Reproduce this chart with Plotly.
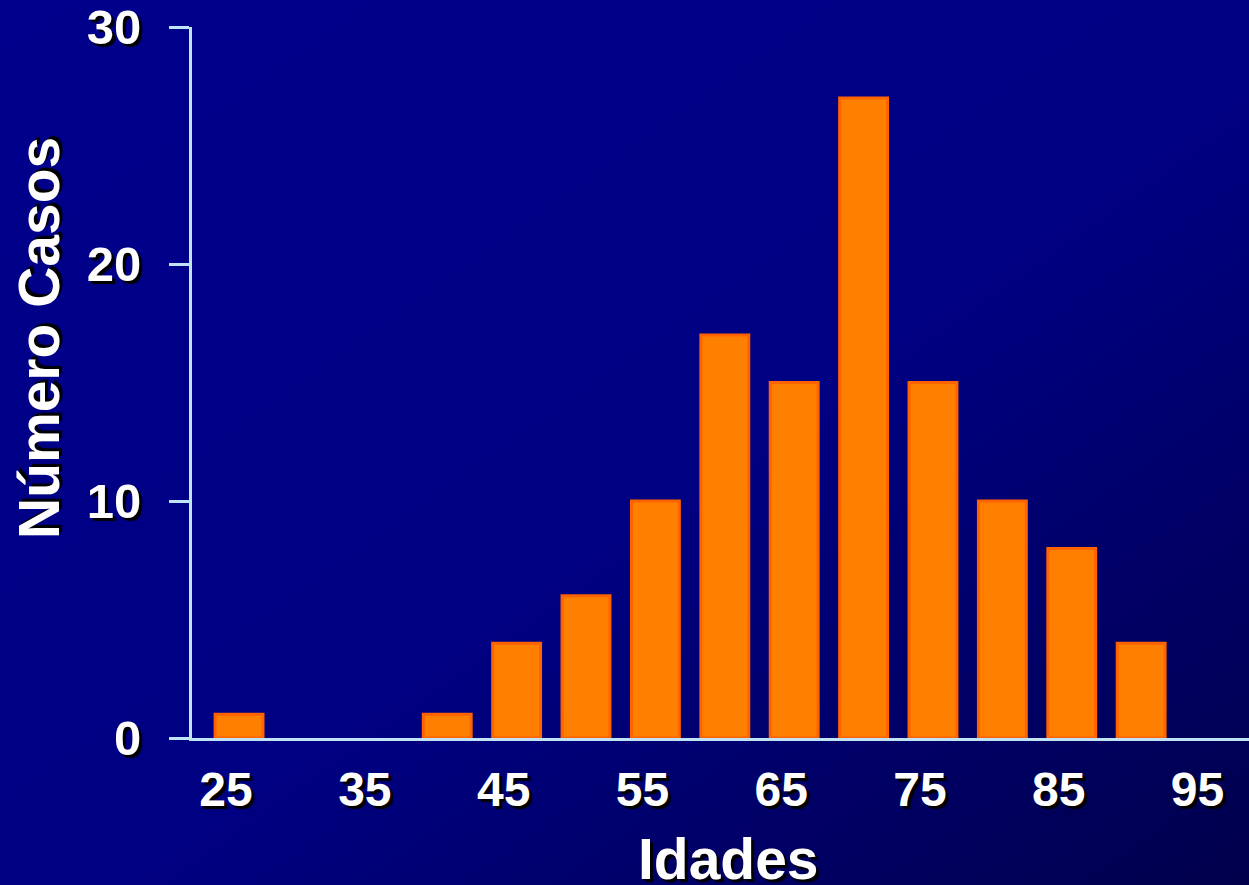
import urllib.parse
import plotly.graph_objects as go

# Age groups (lower bound of each 5-year class) and number of cases
idades = [25, 30, 35, 40, 45, 50, 55, 60, 65, 70, 75, 80, 85, 90]
casos = [1, 0, 0, 1, 4, 6, 10, 17, 15, 27, 15, 10, 8, 4]

x_ticks = [25, 35, 45, 55, 65, 75, 85, 95]
y_ticks = [0, 10, 20, 30]

W, H = 1249, 885
M_L, M_R, M_T, M_B = 192, 0, 27, 147
PW, PH = W - M_L - M_R, H - M_T - M_B

FONT = "Arial, Liberation Sans, sans-serif"
AXIS_COLOR = "#BFE4F8"
SHADOW = "3px 3px 1px #000000"

# Diagonal navy gradient used as the slide background
svg = (
    "<svg xmlns='http://www.w3.org/2000/svg' width='1249' height='885' "
    "preserveAspectRatio='none'><defs><linearGradient id='g' x1='0' y1='0' "
    "x2='1' y2='1'><stop offset='0' stop-color='#00008C'/>"
    "<stop offset='0.55' stop-color='#000082'/>"
    "<stop offset='1' stop-color='#00004C'/></linearGradient></defs>"
    "<rect width='1249' height='885' fill='url(#g)'/></svg>"
)
bg_src = "data:image/svg+xml;charset=utf-8," + urllib.parse.quote(svg)

# empty classes get no outline so nothing shows on the baseline
outline_w = [3 if v > 0 else 0 for v in casos]

fig = go.Figure(
    go.Bar(
        x=idades,
        y=casos,
        width=3.45,
        marker=dict(color="#FF8000", line=dict(color="#FF6200", width=outline_w)),
    )
)

fig.update_layout(
    width=W,
    height=H,
    margin=dict(l=M_L, r=M_R, t=M_T, b=M_B, pad=0),
    paper_bgcolor="#000080",
    plot_bgcolor="rgba(0,0,0,0)",
    showlegend=False,
    images=[
        dict(
            source=bg_src,
            xref="paper",
            yref="paper",
            x=-M_L / PW,
            y=1 + M_T / PH,
            sizex=W / PW,
            sizey=H / PH,
            xanchor="left",
            yanchor="top",
            sizing="stretch",
            layer="below",
        )
    ],
    xaxis=dict(
        range=[21.61, 97.77],
        tickvals=x_ticks,
        ticktext=[str(v) for v in x_ticks],
        ticks="",
        showgrid=False,
        zeroline=False,
        showline=True,
        linecolor=AXIS_COLOR,
        linewidth=3,
        ticklabelshift=-13,
        ticklabelstandoff=7,
        tickfont=dict(family=FONT, size=48, color="white", weight="bold", shadow=SHADOW),
    ),
    yaxis=dict(
        range=[0, 30],
        tickvals=y_ticks,
        ticktext=[str(v) for v in y_ticks],
        ticks="outside",
        ticklen=20,
        tickwidth=3,
        tickcolor=AXIS_COLOR,
        showgrid=False,
        zeroline=False,
        showline=True,
        linecolor=AXIS_COLOR,
        linewidth=3,
        ticklabelstandoff=18,
        tickfont=dict(family=FONT, size=49, color="white", weight="bold", shadow=SHADOW),
    ),
    annotations=[
        dict(
            text="Idades",
            xref="paper",
            yref="paper",
            x=(728 - M_L) / PW,
            y=(M_T + PH - 859) / PH,
            xanchor="center",
            yanchor="middle",
            showarrow=False,
            font=dict(family=FONT, size=57, color="white", weight="bold", shadow=SHADOW),
        ),
        dict(
            text="Número Casos",
            xref="paper",
            yref="paper",
            x=(39 - M_L) / PW,
            y=(M_T + PH - 338) / PH,
            xanchor="center",
            yanchor="middle",
            textangle=-90,
            showarrow=False,
            font=dict(family=FONT, size=57, color="white", weight="bold", shadow=SHADOW),
        ),
    ],
)

fig.write_html("out.html")
